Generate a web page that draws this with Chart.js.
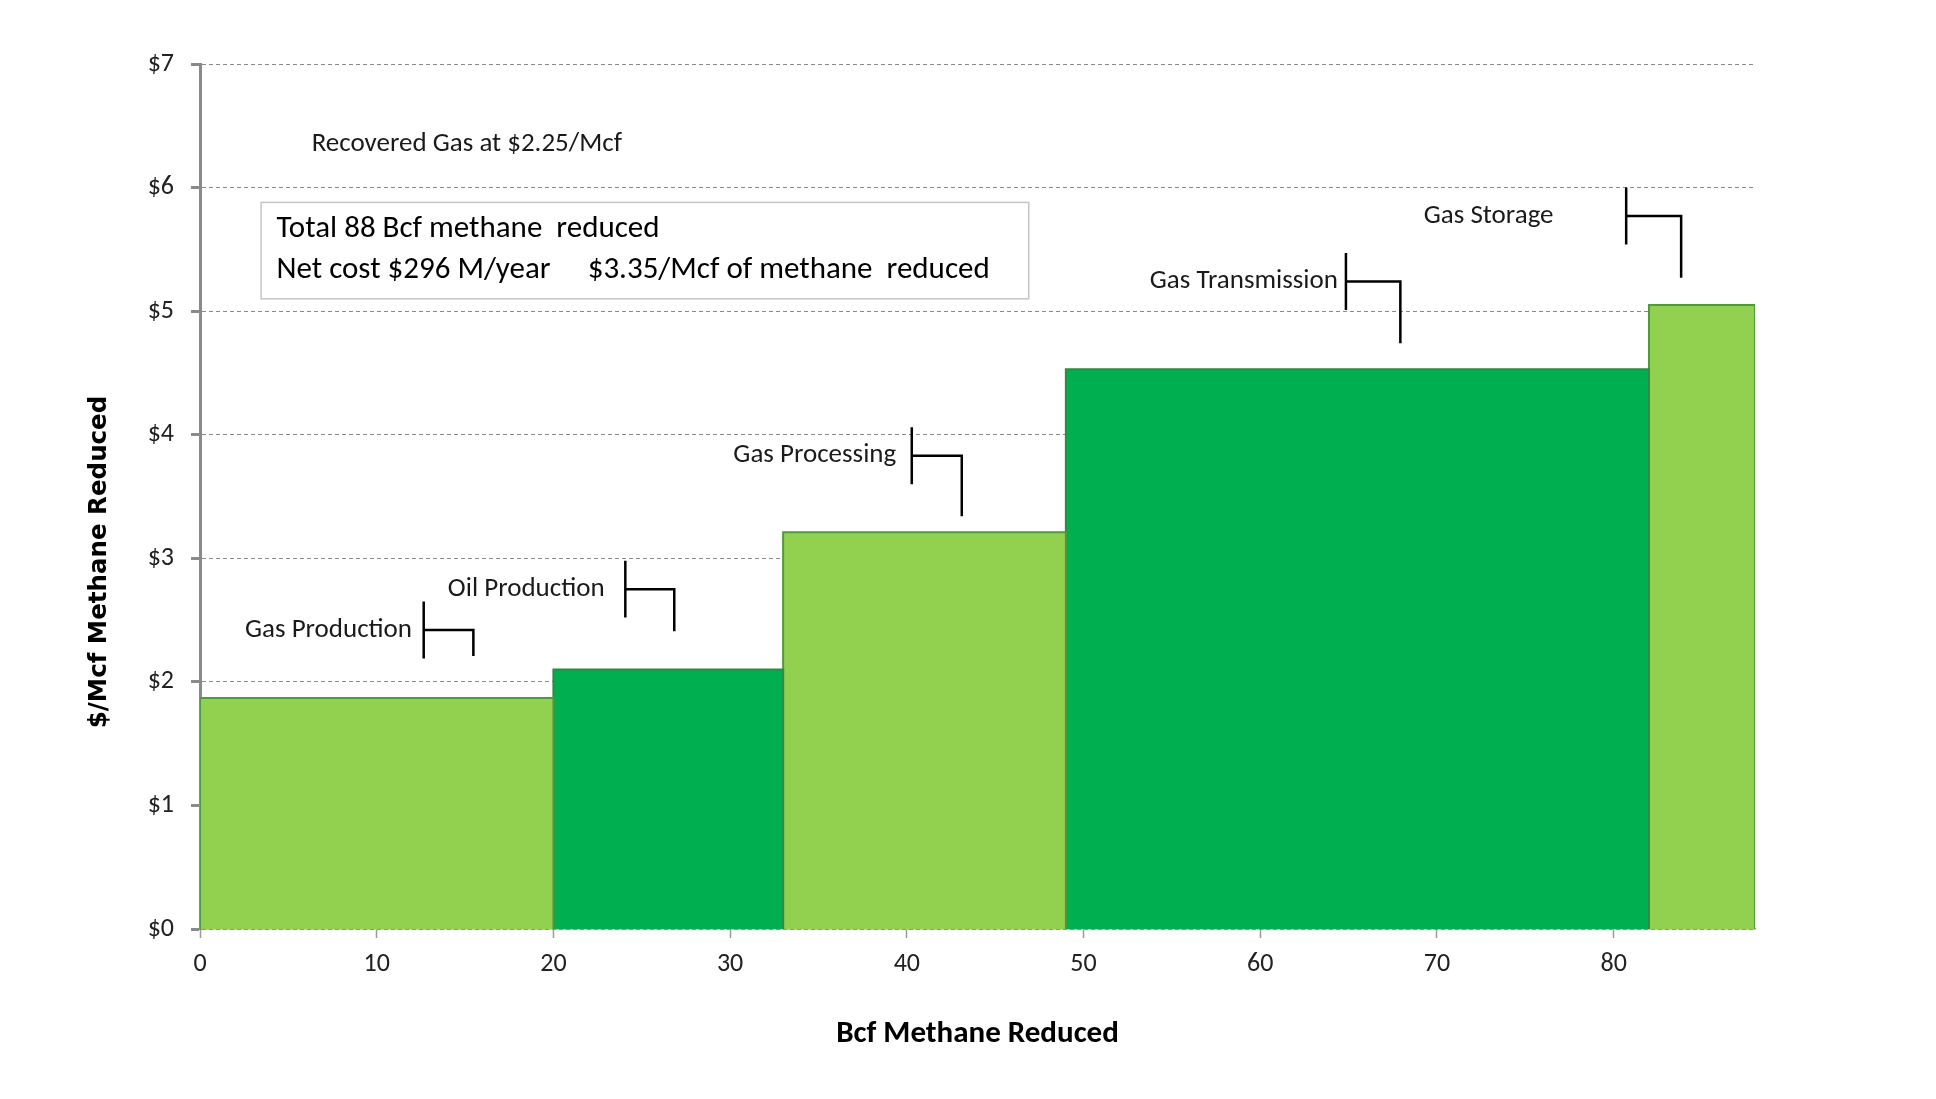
<!DOCTYPE html>
<html>
<head>
<meta charset="utf-8">
<script src="https://cdn.jsdelivr.net/npm/chart.js@4.4.1/dist/chart.umd.min.js"></script>
<style>
  html, body { margin: 0; padding: 0; background: #ffffff; }
  #wrap { width: 1936px; height: 1099px; position: relative; }
</style>
</head>
<body>
<div id="wrap"><canvas id="c" width="1936" height="1099"></canvas></div>
<script>
// ---------------- DATA ----------------
const segments   = ['Gas Production', 'Oil Production', 'Gas Processing', 'Gas Transmission', 'Gas Storage'];
const volumesBcf = [20, 13, 16, 33, 6];             // Bcf methane reduced per segment (bar widths)
const costPerMcf = [1.87, 2.10, 3.21, 4.53, 5.05];  // $/Mcf methane reduced (bar heights)
const xTickValues = [0, 10, 20, 30, 40, 50, 60, 70, 80];
const yTickValues = [0, 1, 2, 3, 4, 5, 6, 7];
const xAxisTitle = 'Bcf Methane Reduced';
const yAxisTitle = '$/Mcf Methane Reduced';
const noteRecovered = 'Recovered Gas at $2.25/Mcf';
const summaryLine1 = 'Total 88 Bcf methane  reduced';
const summaryLine2a = 'Net cost $296 M/year';
const summaryLine2b = '$3.35/Mcf of methane  reduced';

// ---------------- STYLE / LAYOUT (not data) ----------------
const fillColors   = ['#92D050', '#00B050', '#92D050', '#00B050', '#92D050'];
const borderColors = ['#4f9a3c', '#2f8a44', '#4f9a3c', '#2f8a44', '#4f9a3c'];
// callout placement in axis units: text end x, bracket x, bracket mid y, hook x, hook bottom y
const calloutPlacement = [
  { textEnd: 12.0, bx: 12.66, my: 2.42, hx: 15.47, hy: 2.21 },
  { textEnd: 22.9, bx: 24.07, my: 2.75, hx: 26.84, hy: 2.41 },
  { textEnd: 39.4, bx: 40.28, my: 3.83, hx: 43.11, hy: 3.34 },
  { textEnd: 64.4, bx: 64.85, my: 5.24, hx: 67.93, hy: 4.74 },
  { textEnd: 76.6, bx: 80.71, my: 5.77, hx: 83.82, hy: 5.27 }
];
const bracketHalf = 0.23;
const FONT = 'Carlito, "Liberation Sans", Arial, sans-serif';

// Build rectangle outlines from the data (cumulative widths)
const datasets = [];
let start = 0;
for (let i = 0; i < segments.length; i++) {
  const end = start + volumesBcf[i];
  datasets.push({
    label: segments[i],
    data: [
      { x: start, y: 0 },
      { x: start, y: costPerMcf[i] },
      { x: end, y: costPerMcf[i] },
      { x: end, y: 0 }
    ],
    showLine: true,
    fill: 'origin',
    backgroundColor: fillColors[i],
    borderColor: borderColors[i],
    borderWidth: 2,
    pointRadius: 0,
    pointHoverRadius: 0,
    tension: 0
  });
  start = end;
}
const totalBcf = start;

const annotationPlugin = {
  id: 'mccAnnotations',
  afterDatasetsDraw(chart) {
    const ctx = chart.ctx;
    const xs = chart.scales.x, ys = chart.scales.y;
    const px = v => xs.getPixelForValue(v);
    const py = v => ys.getPixelForValue(v);
    ctx.save();

    // Recovered gas note
    ctx.fillStyle = '#1a1a1a';
    ctx.font = '27px ' + FONT;
    ctx.textAlign = 'left';
    ctx.textBaseline = 'middle';
    ctx.fillText(noteRecovered, px(6.32), py(6.35));

    // Summary box
    const bx0 = px(3.46), bx1 = px(46.9), by0 = py(5.88), by1 = py(5.10);
    ctx.fillStyle = '#ffffff';
    ctx.fillRect(bx0, by0, bx1 - bx0, by1 - by0);
    ctx.strokeStyle = '#c6c6c6';
    ctx.lineWidth = 1.5;
    ctx.strokeRect(bx0, by0, bx1 - bx0, by1 - by0);
    ctx.fillStyle = '#000000';
    ctx.font = '31px ' + FONT;
    ctx.fillText(summaryLine1, px(4.33), py(5.66));
    ctx.fillText(summaryLine2a, px(4.33), py(5.33));
    ctx.fillText(summaryLine2b, px(21.94), py(5.33));

    // Segment callouts
    ctx.font = '27px ' + FONT;
    ctx.textAlign = 'right';
    ctx.fillStyle = '#1a1a1a';
    ctx.strokeStyle = '#000000';
    ctx.lineWidth = 2.5;
    ctx.lineCap = 'butt';
    for (let i = 0; i < segments.length; i++) {
      const c = calloutPlacement[i];
      ctx.fillText(segments[i], px(c.textEnd), py(c.my));
      ctx.beginPath();
      ctx.moveTo(px(c.bx), py(c.my + bracketHalf));
      ctx.lineTo(px(c.bx), py(c.my - bracketHalf));
      ctx.moveTo(px(c.bx), py(c.my));
      ctx.lineTo(px(c.hx), py(c.my));
      ctx.lineTo(px(c.hx), py(c.hy));
      ctx.stroke();
    }

    // Axis titles
    const area = chart.chartArea;
    ctx.fillStyle = '#000000';
    ctx.textAlign = 'center';
    ctx.font = 'bold 31px ' + FONT;
    ctx.fillText(xAxisTitle, (area.left + area.right) / 2, 1034);
    ctx.translate(100, 562);
    ctx.rotate(-Math.PI / 2);
    ctx.font = 'bold 24.5px "DejaVu Sans", Verdana, sans-serif';
    ctx.fillText(yAxisTitle, 0, 0);
    ctx.restore();
  }
};

new Chart(document.getElementById('c'), {
  type: 'scatter',
  data: { datasets },
  plugins: [annotationPlugin],
  options: {
    responsive: false,
    animation: false,
    devicePixelRatio: 1,
    layout: { padding: { left: 0, right: 181, top: 64, bottom: 0 } },
    plugins: {
      legend: { display: false },
      tooltip: { enabled: false },
      title: { display: false }
    },
    scales: {
      x: {
        type: 'linear',
        min: 0,
        max: totalBcf,
        afterFit(scale) { scale.height = 170; },
        afterBuildTicks(scale) { scale.ticks = xTickValues.map(v => ({ value: v })); },
        ticks: {
          color: '#222222',
          font: { family: FONT, size: 26 },
          padding: 11,
          maxRotation: 0
        },
        grid: {
          drawOnChartArea: false,
          drawTicks: true,
          tickLength: 9,
          tickColor: '#9a9a9a',
          tickWidth: 1.5
        },
        border: { display: true, color: '#9a9a9a', width: 1.5 }
      },
      y: {
        type: 'linear',
        min: 0,
        max: 7,
        afterFit(scale) { scale.width = 200; },
        afterBuildTicks(scale) { scale.ticks = yTickValues.map(v => ({ value: v })); },
        ticks: {
          color: '#222222',
          font: { family: FONT, size: 26 },
          padding: 17,
          callback: v => '$' + v
        },
        grid: {
          color: '#8a8a8a',
          lineWidth: 1,
          drawTicks: true,
          tickLength: 9,
          tickColor: '#8a8a8a',
          tickWidth: 3,
          tickBorderDash: []
        },
        border: { display: true, color: '#8a8a8a', width: 3, dash: [4, 3] }
      }
    }
  }
});
</script>
</body>
</html>
